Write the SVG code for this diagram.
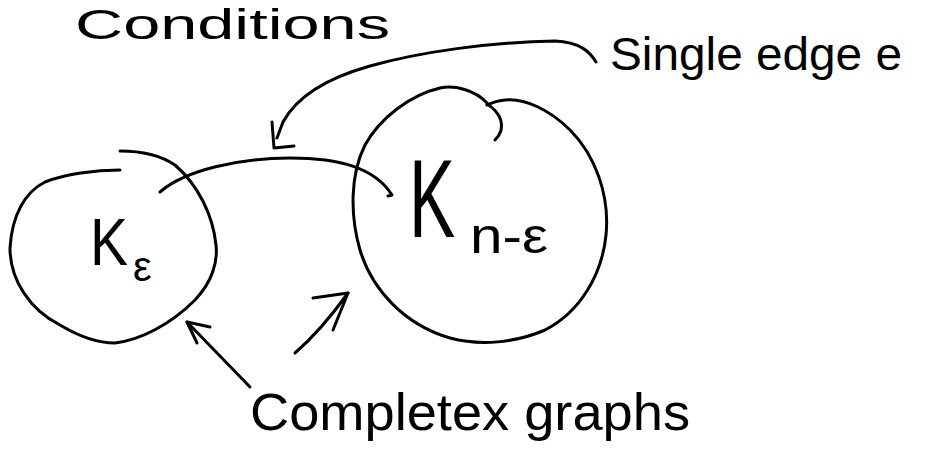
<svg xmlns="http://www.w3.org/2000/svg" width="952" height="461" viewBox="0 0 952 461">
  <style>
    .ink { fill: none; stroke: #000; stroke-width: 3; stroke-linecap: round; stroke-linejoin: round; }
    .txt { font-family: "Liberation Sans", Arial, sans-serif; fill: #000; }
  </style>
  <rect width="952" height="461" fill="#fff"/>

  <g id="title">
    <text class="txt" x="75" y="39" font-size="42" textLength="315" lengthAdjust="spacingAndGlyphs">Conditions</text>
  </g>

  <g id="node-k-eps">
    <path class="ink" d="M 120,170 C 95,170 65,174 45,182 C 25,192 12,215 10,248 C 10,280 30,310 60,325 C 80,337 100,343 115,343 C 140,340 170,325 195,300 C 212,282 218,262 216,245 C 213,215 198,185 175,165 C 160,155 140,151 120,151"/>
    <text class="txt" x="90" y="265" font-size="66" textLength="38" lengthAdjust="spacingAndGlyphs">K</text>
    <text class="txt" x="133" y="281" font-size="42">ε</text>
  </g>

  <g id="node-k-n-eps">
    <path class="ink" d="M 487,103 C 475,90 455,85 440,88 C 410,95 380,118 365,145 C 350,175 350,215 360,250 C 372,290 405,325 450,338 C 480,346 515,343 545,330 C 580,312 602,275 606,235 C 610,195 595,155 570,130 C 550,110 525,98 505,100 C 497,101 491,103 487,105"/>
    <path class="ink" d="M 487,104 C 500,112 508,127 495,140"/>
    <text class="txt" transform="translate(409,237) scale(0.96,1.55)" font-size="72">K</text>
    <text class="txt" x="470" y="253" font-size="50" textLength="78" lengthAdjust="spacingAndGlyphs">n-ε</text>
  </g>

  <g id="label-single-edge">
    <text class="txt" x="610" y="70" font-size="46" textLength="292" lengthAdjust="spacingAndGlyphs">Single edge e</text>
  </g>

  <g id="label-complete-graphs">
    <text class="txt" x="250" y="430" font-size="52" textLength="440" lengthAdjust="spacingAndGlyphs">Completex graphs</text>
  </g>

  <g id="connectors">
    <!-- single edge e between the two complete graphs -->
    <path class="ink" d="M 160,192 C 185,170 240,158 290,158 C 340,158 375,168 392,195 L 388,196"/>
    <!-- callout from "Single edge e" -->
    <path class="ink" d="M 596,62 C 590,52 580,42 555,41 C 490,42 420,52 370,66 C 320,80 295,100 283,122 L 277,138"/>
    <path class="ink" d="M 272,122 L 274,148 L 294,146"/>
    <!-- arrows from "Completex graphs" -->
    <path class="ink" d="M 250,387 L 187,322"/>
    <path class="ink" d="M 210,327 L 187,322 L 197,343"/>
    <path class="ink" d="M 295,353 C 310,340 330,318 348,293"/>
    <path class="ink" d="M 313,298 L 348,293 L 333,330"/>
  </g>
</svg>
